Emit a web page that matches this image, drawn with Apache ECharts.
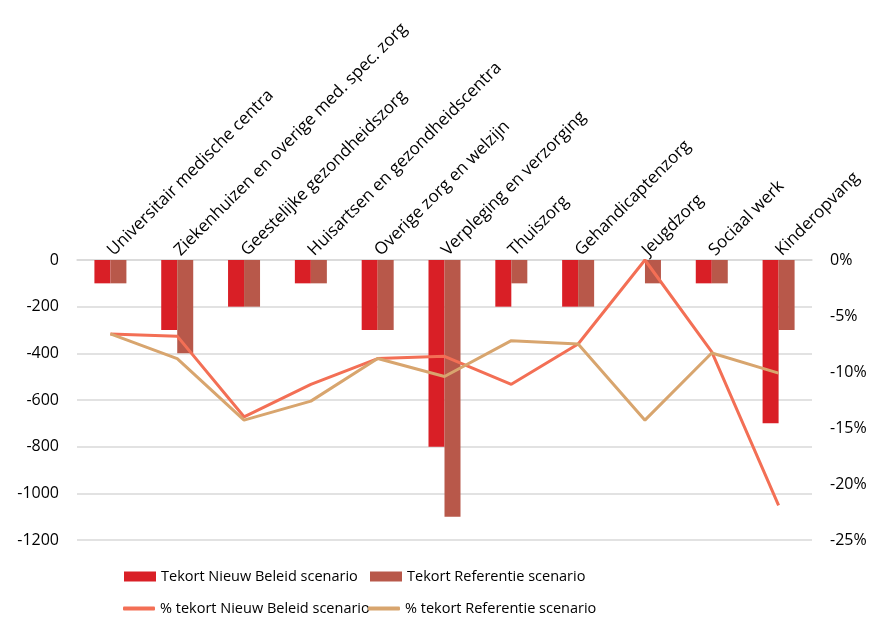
<!DOCTYPE html>
<html>
<head>
<meta charset="utf-8">
<script src="https://cdn.jsdelivr.net/npm/echarts@6/dist/echarts.min.js"></script>
<style>html,body{margin:0;padding:0;background:#fff}#c{width:871px;height:623px}</style>
</head>
<body>
<div id="c"></div>
<script>
const categories = ["Universitair medische centra","Ziekenhuizen en overige med. spec. zorg","Geestelijke gezondheidszorg","Huisartsen en gezondheidscentra","Overige zorg en welzijn","Verpleging en verzorging","Thuiszorg","Gehandicaptenzorg","Jeugdzorg","Sociaal werk","Kinderopvang"];
const tekortNieuw = [-100,-300,-200,-100,-300,-800,-200,-200,0,-100,-700];
const tekortRef = [-100,-400,-200,-100,-300,-1100,-100,-200,-100,-100,-300];
const pctNieuw = [-6.6,-6.8,-14.0,-11.1,-8.8,-8.6,-11.1,-7.5,0,-8.2,-21.9];
const pctRef = [-6.6,-8.8,-14.3,-12.6,-8.8,-10.4,-7.2,-7.5,-14.3,-8.3,-10.1];
const names = ["Tekort Nieuw Beleid scenario","Tekort Referentie scenario","% tekort Nieuw Beleid scenario","% tekort Referentie scenario"];

const FONT = "'Open Sans', sans-serif";
const chart = echarts.init(document.getElementById('c'));
const barLeg = {itemWidth: 32, itemHeight: 10, itemGap: 4, padding: 0, icon: 'rect', textStyle: {fontFamily: FONT, fontSize: 14.5, color: '#000'}};
const lineLeg = {itemWidth: 32, itemHeight: 4, itemGap: 4, padding: 0, icon: 'roundRect', textStyle: {fontFamily: FONT, fontSize: 14.5, color: '#000'}};
chart.setOption({
  animation: false,
  textStyle: {fontFamily: FONT},
  grid: {left: 77, right: 59, top: 260, bottom: 83},
  legend: [
    Object.assign({data: [names[0]], left: 124, top: 569}, barLeg),
    Object.assign({data: [names[1]], left: 370, top: 569}, barLeg),
    Object.assign({data: [names[2]], left: 123, top: 601}, lineLeg),
    Object.assign({data: [names[3]], left: 368, top: 601}, lineLeg)
  ],
  xAxis: {
    type: 'category', position: 'top', data: categories,
    axisLine: {lineStyle: {color: '#d9d9d9', width: 1.5}},
    axisTick: {show: false},
    axisLabel: {rotate: 45, interval: 0, margin: 7, fontFamily: FONT, fontSize: 17, color: '#000'}
  },
  yAxis: [
    {type: 'value', min: -1200, max: 0, interval: 200,
     axisLine: {show: false}, axisTick: {show: false},
     axisLabel: {fontFamily: FONT, fontSize: 16, color: '#000', margin: 18, formatter: v => String(v)},
     splitLine: {lineStyle: {color: '#d9d9d9', width: 1.5}}},
    {type: 'value', min: -25, max: 0, interval: 5,
     axisLine: {show: false}, axisTick: {show: false},
     axisLabel: {fontFamily: FONT, fontSize: 16, color: '#000', margin: 18, formatter: v => v + '%'},
     splitLine: {show: false}}
  ],
  series: [
    {name: names[0], type: 'bar', data: tekortNieuw, barWidth: 16, barGap: '0%', itemStyle: {color: '#d91f26'}},
    {name: names[1], type: 'bar', data: tekortRef, barWidth: 16, barGap: '0%', itemStyle: {color: '#b8584a'}},
    {name: names[2], type: 'line', yAxisIndex: 1, data: pctNieuw, symbol: 'none', lineStyle: {color: '#f36f55', width: 3}, itemStyle: {color: '#f36f55'}},
    {name: names[3], type: 'line', yAxisIndex: 1, data: pctRef, symbol: 'none', lineStyle: {color: '#d8a56e', width: 3}, itemStyle: {color: '#d8a56e'}}
  ]
});
</script>
</body>
</html>
